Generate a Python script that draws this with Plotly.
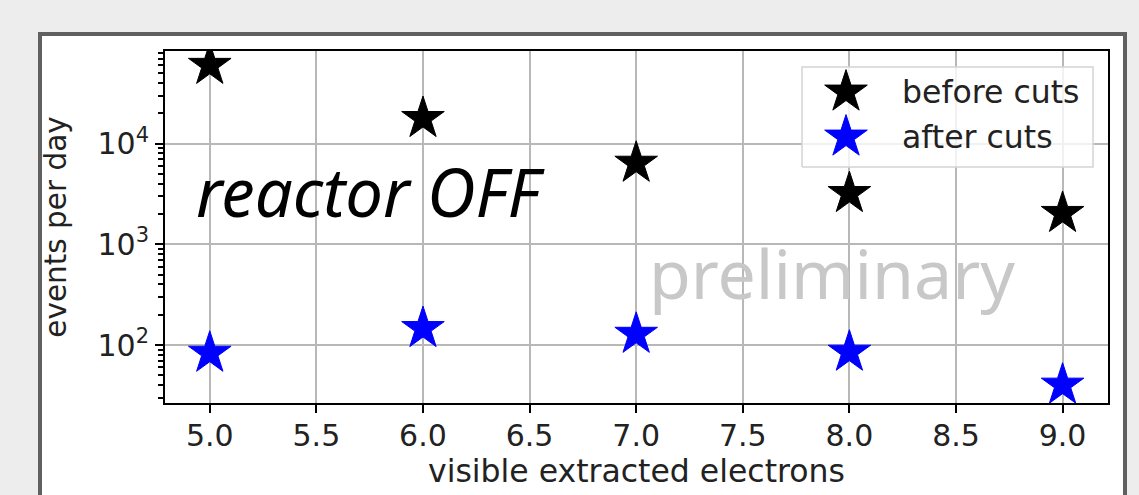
import plotly.graph_objects as go

# Event rates per day versus number of visible extracted electrons
electrons = [5.0, 6.0, 7.0, 8.0, 9.0]
before_cuts = [60000, 17800, 6400, 3200, 2030]
after_cuts = [83, 146, 128, 85, 40]

x_ticks = [5.0, 5.5, 6.0, 6.5, 7.0, 7.5, 8.0, 8.5, 9.0]
y_ticks = [100, 1000, 10000]
y_tick_text = ["10<sup>2</sup>", "10<sup>3</sup>", "10<sup>4</sup>"]
y_minor = [m * 10 ** e for e in (1, 2, 3, 4) for m in range(2, 10)]

series_names = ["before cuts", "after cuts"]
series_colors = ["black", "#0000ff"]

# Overlay labels (position in data units)
label_reactor = dict(text="reactor OFF", x=4.935, y=10 ** 3.44)
label_prelim = dict(text="preliminary", x=7.06, y=10 ** 2.63)

W, H = 1139, 495
L, R, T, B = 165, 31, 51, 92
pw, ph = W - L - R, H - T - B

def px_x(p):
    return (p - L) / pw

def px_y(p):
    return (H - B - p) / ph

fig = go.Figure()

fig.add_trace(go.Scatter(
    x=[label_reactor["x"]], y=[label_reactor["y"]], text=[label_reactor["text"]],
    mode="text", textposition="middle right", showlegend=False, hoverinfo="skip",
    textfont=dict(family="Noto Sans", size=67, color="black", style="italic"),
))
fig.add_trace(go.Scatter(
    x=[label_prelim["x"]], y=[label_prelim["y"]], text=[label_prelim["text"]],
    mode="text", textposition="middle right", showlegend=False, hoverinfo="skip",
    textfont=dict(family="Noto Sans", size=68, color="#c8c8c8"),
))

for name, vals, col in zip(series_names, [before_cuts, after_cuts], series_colors):
    fig.add_trace(go.Scatter(
        x=electrons, y=vals, mode="markers", name=name, showlegend=False,
        marker=dict(symbol="star", size=32, color=col, line=dict(color=col, width=1)),
    ))

# Legend drawn on a hidden overlay subplot spanning the plot area (0..1 units)
lx0, lx1, ly0, ly1 = px_x(802), px_x(1093), px_y(167), px_y(67)
fig.add_trace(go.Scatter(
    x=[lx0, lx1, lx1, lx0, lx0], y=[ly0, ly0, ly1, ly1, ly0],
    xaxis="x2", yaxis="y2", mode="lines", fill="toself",
    fillcolor="rgba(255,255,255,0.8)", line=dict(color="#d4d4d4", width=1.5),
    showlegend=False, hoverinfo="skip",
))
for i, (name, col) in enumerate(zip(series_names, series_colors)):
    yc = px_y(92 + 45 * i)
    fig.add_trace(go.Scatter(
        x=[px_x(846)], y=[yc], xaxis="x2", yaxis="y2", mode="markers",
        marker=dict(symbol="star", size=32, color=col, line=dict(color=col, width=1)),
        showlegend=False, hoverinfo="skip",
    ))
    fig.add_annotation(
        x=px_x(900), y=yc, xref="paper", yref="paper", text=name,
        showarrow=False, xanchor="left", yanchor="middle",
        font=dict(family="DejaVu Sans", size=31.5, color="#222222"),
    )

axis_common = dict(
    showline=True, linecolor="black", linewidth=2, mirror=True,
    showgrid=True, gridcolor="#b8b8b8", gridwidth=1.7,
    ticks="outside", ticklen=8, tickwidth=2, tickcolor="black",
    tickfont=dict(family="DejaVu Sans", size=30, color="#222222"),
    zeroline=False, layer="above traces",
)

xaxis_main = dict(
    **axis_common, range=[4.79, 9.213], tickvals=x_ticks,
    ticktext=[f"{v:.1f}" for v in x_ticks], ticklabelstandoff=-3,
    title=dict(text="visible extracted electrons", standoff=0,
               font=dict(family="DejaVu Sans", size=31.5, color="#222222")),
)
yaxis_main = dict(
    **axis_common, type="log", range=[1.424, 4.92],
    tickvals=y_ticks, ticktext=y_tick_text,
    minor=dict(tickvals=y_minor, ticks="outside", ticklen=5, tickwidth=1.5,
               tickcolor="black", showgrid=False),
    title=dict(text="events per day", standoff=22,
               font=dict(family="DejaVu Sans", size=29.5, color="#222222")),
)

# White panel with a dark frame behind the axes
fig.add_shape(
    type="rect", xref="paper", yref="paper", layer="below",
    x0=px_x(40), x1=px_x(1125), y0=px_y(520), y1=px_y(34),
    fillcolor="white", line=dict(color="#606060", width=4),
)

fig.update_layout(
    width=W, height=H,
    margin=dict(l=L, r=R, t=T, b=B),
    paper_bgcolor="#ededed", plot_bgcolor="white",
    font=dict(family="DejaVu Sans", size=30, color="#222222"),
    showlegend=False,
    xaxis=xaxis_main,
    yaxis=yaxis_main,
    xaxis2=dict(overlaying="x", anchor="y2", range=[0, 1], visible=False, fixedrange=True),
    yaxis2=dict(overlaying="y", anchor="x2", range=[0, 1], visible=False, fixedrange=True),
)

fig.write_html("out.html")
